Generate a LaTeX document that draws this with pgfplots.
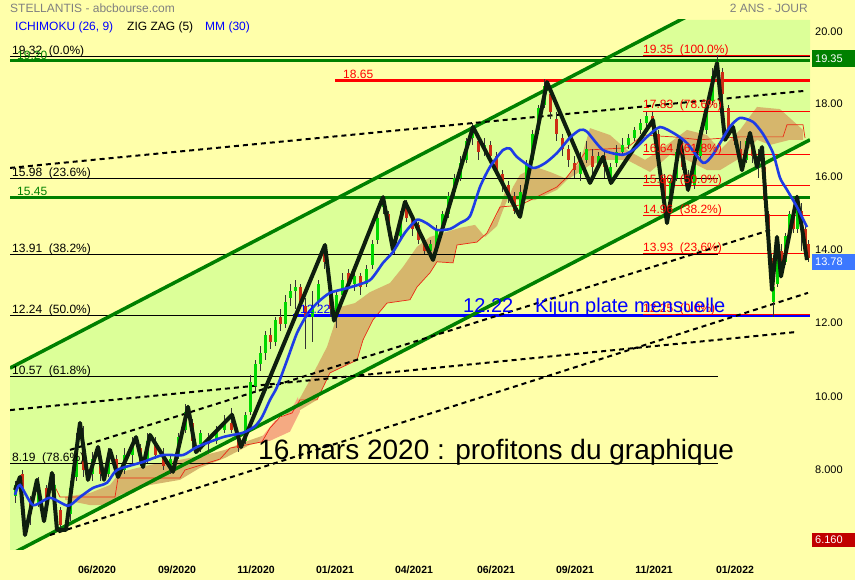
\documentclass[border=0pt]{standalone}
\usepackage{fontspec}
\setmainfont{Liberation Sans}
\usepackage{pgfplots}
\pgfplotsset{compat=1.18}
\usepackage{pgfplotstable}

\definecolor{bg}{RGB}{255,255,170}
\definecolor{chan}{RGB}{220,255,152}
\definecolor{chgreen}{RGB}{0,128,0}
\definecolor{cloud}{RGB}{214,182,108}
\definecolor{salmon}{RGB}{245,170,130}
\definecolor{kred}{RGB}{235,40,20}
\definecolor{zz}{RGB}{14,30,14}
\definecolor{mm}{RGB}{30,60,230}
\definecolor{cgreen}{RGB}{0,215,0}
\definecolor{cred}{RGB}{205,45,20}
\definecolor{fibred}{RGB}{255,0,0}
\definecolor{tgray}{RGB}{128,128,128}
\definecolor{boxblue}{RGB}{60,120,255}
\definecolor{boxred}{RGB}{192,0,0}

% candles: x o h l c
\pgfplotstableread{
x o h l c
15 7.3 7.7 7.1 7.6
38 7.1 7.8 7.0 7.6
54 7.0 7.9 6.8 7.6
70 6.8 7.7 6.6 7.5
76 7.8 9.0 7.7 8.6
92 7.9 8.5 7.7 8.3
108 7.9 8.6 7.8 8.4
124 8.0 8.6 7.9 8.4
132 8.4 8.9 8.2 8.7
147 8.3 9.0 8.2 8.8
170 8.0 8.4 7.9 8.3
178 8.4 9.0 8.3 8.9
185 9.1 9.8 9.0 9.6
200 8.7 9.1 8.5 9.0
216 8.8 9.2 8.7 9.1
224 9.1 9.5 9.0 9.3
245 8.8 9.6 8.7 9.5
250 9.6 10.6 9.5 10.4
255 10.3 11.0 10.1 10.9
260 10.9 11.4 10.7 11.2
265 11.2 11.8 11.0 11.7
275 11.5 12.2 11.4 12.1
285 12.0 12.8 11.9 12.6
290 12.7 13.1 12.5 12.9
295 12.9 13.2 12.4 13.0
312 12.2 12.9 11.5 12.5
318 12.6 13.2 12.5 13.1
336 12.3 12.9 11.9 12.8
342 12.8 13.4 12.7 13.2
354 13.1 13.5 12.9 13.3
366 13.1 13.6 13.0 13.5
372 13.6 14.3 13.5 14.2
377 14.3 15.1 14.2 14.9
383 15.2 15.5 15.0 15.3
400 14.4 15.1 14.3 14.9
430 14.0 14.3 13.8 14.2
436 14.1 14.7 13.9 14.6
442 14.6 15.1 14.5 15.0
448 15.0 15.6 14.9 15.5
454 15.6 16.1 15.5 16.0
460 16.0 16.6 15.9 16.4
466 16.5 17.1 16.4 17.0
472 17.1 17.5 16.9 17.3
484 16.8 17.1 16.6 16.9
520 15.0 15.8 14.9 15.6
526 15.7 16.5 15.6 16.4
532 16.5 17.3 16.4 17.2
538 17.3 18.0 17.2 17.9
544 18.0 18.7 17.9 18.5
580 16.1 16.7 15.9 16.5
586 16.5 17.0 16.4 16.8
598 16.3 16.7 16.2 16.6
610 16.0 16.4 15.8 16.3
616 16.4 16.9 16.3 16.7
622 16.7 17.1 16.6 16.9
628 16.9 17.2 16.8 17.1
634 17.1 17.4 17.0 17.3
640 17.3 17.6 17.2 17.5
646 17.5 17.8 17.3 17.7
670 15.2 16.0 15.1 15.9
676 16.0 16.8 15.9 16.7
694 15.8 16.7 15.7 16.6
700 16.6 17.4 16.5 17.3
706 17.3 18.1 17.2 18.0
712 18.1 19.0 18.0 18.8
717 18.9 19.35 18.7 19.2
746 16.5 17.1 16.4 17.0
758 16.4 16.8 16.0 16.6
773 12.6 13.1 12.2 13.0
777 13.1 14.2 13.0 14.0
785 13.7 14.5 13.6 14.4
789 14.4 15.1 14.3 15.0
797 14.6 15.4 14.5 15.2
}\candG

\pgfplotstableread{
x o h l c
22 7.9 8.0 7.3 7.4
30 7.2 7.3 6.5 6.8
46 7.5 7.6 6.9 7.0
60 6.9 7.0 6.3 6.5
83 8.7 9.2 7.8 8.0
100 8.3 8.5 7.7 7.9
116 8.3 8.4 7.8 7.9
140 8.6 8.7 8.1 8.2
155 8.7 8.9 8.3 8.4
163 8.4 8.6 8.0 8.1
192 9.3 9.4 8.6 8.8
208 8.9 9.0 8.5 8.7
231 9.3 9.7 9.0 9.1
238 8.8 9.0 8.5 8.6
270 11.7 11.9 11.3 11.5
280 12.2 12.4 11.8 12.0
300 13.0 13.1 12.5 12.6
305 12.5 12.7 11.3 12.2
324 14.1 14.2 13.5 13.7
330 13.0 13.1 12.2 12.4
348 13.4 13.5 13.0 13.1
360 13.3 13.4 12.8 13.0
388 15.0 15.1 14.4 14.6
394 14.3 14.4 13.9 14.1
406 15.2 15.4 14.8 14.9
412 14.9 15.0 14.4 14.6
418 14.7 14.8 14.2 14.3
424 14.2 14.3 13.9 14.0
478 17.0 17.2 16.5 16.7
490 16.9 17.0 16.5 16.6
496 16.6 16.7 16.1 16.2
502 16.1 16.2 15.6 15.8
508 15.8 15.9 15.3 15.5
514 15.5 15.6 15.0 15.1
550 18.3 18.4 17.6 17.8
556 17.6 17.8 17.0 17.2
562 17.1 17.2 16.6 16.8
568 16.8 16.9 16.3 16.5
574 16.4 16.6 16.0 16.2
592 16.6 16.8 16.0 16.3
604 16.6 16.7 16.0 16.3
652 17.7 17.8 17.2 17.4
658 17.2 17.3 16.3 16.4
664 16.0 16.1 14.9 15.2
682 16.8 17.1 16.2 16.3
688 16.0 16.2 15.6 15.8
722 18.9 19.0 18.1 18.3
728 17.9 18.0 17.1 17.3
734 17.2 17.4 16.9 17.0
740 16.8 17.0 16.3 16.4
752 17.0 17.1 16.4 16.6
764 16.3 16.4 15.2 15.4
768 15.0 15.1 13.8 14.0
771 13.8 13.9 12.9 13.0
781 14.0 14.2 13.5 13.6
793 15.0 15.2 14.5 14.6
801 15.1 15.3 14.0 14.7
805 14.6 14.7 13.9 14.1
808 14.2 14.3 13.7 13.8
}\candR

\begin{document}
\begin{tikzpicture}
\useasboundingbox (0,0) rectangle (855pt,580pt);
\fill[bg] (0,0) rectangle (855pt,580pt);
\begin{axis}[at={(10pt,30pt)}, anchor=south west, scale only axis,
  width=800pt, height=530pt,
  xmin=10, xmax=810, ymin=5.81, ymax=20.32,
  hide axis, clip mode=individual]

% channel fill
\addplot[fill=chan, draw=none] coordinates {
  (10,10.79) (678,20.32) (810,20.32) (810,17.04) (10,5.68)} -- cycle;

% ichimoku cloud
\addplot[fill=cloud, draw=none] coordinates {
 (65,7.26)(90,7.37)(110,7.59)(120,7.94)(150,8.14)(180,8.28)(205,8.41)(225,8.55)
 (245,8.77)(265,8.96)(285,9.51)(300,9.97)(310,10.47)(327,11.37)(340,12.46)(355,12.57)
 (370,12.87)(390,13.12)(403,13.56)(417,14.11)(430,14.38)(460,14.63)(475,14.71)(485,14.38)
 (497,14.68)(503,15.12)(513,15.75)(520,16.08)(535,16.30)(550,16.16)(565,15.99)(580,16.43)
 (590,17.36)(610,17.17)(627,16.76)(645,16.49)(660,16.76)(687,17.31)(707,17.17)(720,16.76)
 (740,17.31)(757,17.94)(780,17.88)(803,17.31)
 (803,17.04)(790,17.04)(770,16.90)(757,17.04)(740,16.54)(720,16.21)(707,16.21)(687,16.49)
 (670,16.63)(650,16.16)(627,16.49)(605,16.49)(590,16.35)(567,15.94)(557,15.67)(535,15.39)
 (517,15.39)(505,15.61)(497,14.98)(487,14.49)(477,14.24)(457,14.16)(453,13.67)(437,13.70)
 (430,13.40)(417,13.01)(410,12.66)(387,12.57)(373,12.11)(363,11.56)(357,11.01)(330,10.66)
 (317,9.92)(300,9.64)(285,9.10)(270,8.82)(250,8.69)(225,8.33)(200,8.06)(180,7.73)
 (150,7.59)(120,7.32)(110,7.04)(90,7.04)(65,7.18)} -- cycle;
\addplot[fill=salmon, draw=none] coordinates {
 (258,8.77)(275,9.35)(290,9.56)(298,10.0)(300,9.6)(290,9.05)(270,8.80)} -- cycle;

% kijun / span red thin line
\addplot[kred, line width=0.7pt] coordinates {
 (55,7.54)(60,7.26)(115,7.26)(118,7.78)(180,7.78)(185,8.00)(220,8.30)(230,8.60)
 (262,8.77)(270,9.15)(280,9.45)(292,9.56)(300,9.92)(317,9.92)(330,10.66)(357,11.01)
 (363,11.56)(373,12.11)(387,12.57)(410,12.66)(417,13.01)(430,13.40)(437,13.70)(453,13.67)
 (457,14.16)(477,14.24)(487,14.49)(500,15.20)(520,15.25)(557,15.75)(567,16.02)(587,16.76)
 (627,16.82)(643,17.17)(673,17.12)(700,17.04)(740,17.12)(783,17.12)(787,17.45)(803,17.45)(805,17.09)};

% black fibonacci levels
\addplot[black, line width=0.8pt] coordinates {(10,19.32) (810,19.32)};
\addplot[black, line width=0.8pt] coordinates {(10,15.98) (718,15.98)};
\addplot[black, line width=0.8pt] coordinates {(10,13.91) (718,13.91)};
\addplot[black, line width=0.8pt] coordinates {(10,12.24) (718,12.24)};
\addplot[black, line width=0.8pt] coordinates {(10,10.57) (718,10.57)};
\addplot[black, line width=0.8pt] coordinates {(10,8.19) (718,8.19)};

% red fibonacci levels
\addplot[fibred, line width=0.8pt] coordinates {(643,19.35) (810,19.35)};
\addplot[fibred, line width=0.8pt] coordinates {(643,17.83) (810,17.83)};
\addplot[fibred, line width=0.8pt] coordinates {(643,16.64) (810,16.64)};
\addplot[fibred, line width=0.8pt] coordinates {(643,15.80) (810,15.80)};
\addplot[fibred, line width=0.8pt] coordinates {(643,14.96) (810,14.96)};
\addplot[fibred, line width=0.8pt] coordinates {(643,13.93) (810,13.93)};

% supports / resistances
\addplot[chgreen, line width=3pt] coordinates {(10,19.20) (810,19.20)};
\addplot[chgreen, line width=3pt] coordinates {(10,15.45) (810,15.45)};
\addplot[fibred, line width=3pt] coordinates {(335,18.65) (810,18.65)};
\addplot[blue, line width=3pt] coordinates {(293,12.22) (810,12.22)};
\addplot[fibred, line width=1pt] coordinates {(643,12.27) (810,12.27)};

% channel lines
\addplot[chgreen, line width=3.5pt] coordinates {(10,10.79) (700,20.60)};
\addplot[chgreen, line width=3.5pt] coordinates {(10,5.68) (810,17.04)};

% dashed trend lines
\addplot[black, line width=2pt, dash pattern=on 5pt off 4pt] coordinates {(10,16.27) (805,18.38)};
\addplot[black, line width=2pt, dash pattern=on 5pt off 4pt] coordinates {(10,9.64) (797,11.78)};
\addplot[black, line width=2pt, dash pattern=on 5pt off 4pt] coordinates {(50,6.22) (808,12.85)};
\addplot[black, line width=2pt, dash pattern=on 5pt off 4pt] coordinates {(70,8.55) (770,14.57)};

% candles: wicks then bodies
\addplot[draw=none, mark=none, error bars/.cd, y dir=both, y explicit, error mark=none,
  error bar style={draw=black!80, line width=0.6pt}]
  table[x=x, y expr=(\thisrow{h}+\thisrow{l})/2, y error expr=(\thisrow{h}-\thisrow{l})/2] {\candG};
\addplot[draw=none, mark=none, error bars/.cd, y dir=both, y explicit, error mark=none,
  error bar style={draw=black!80, line width=0.6pt}]
  table[x=x, y expr=(\thisrow{h}+\thisrow{l})/2, y error expr=(\thisrow{h}-\thisrow{l})/2] {\candR};
\addplot[draw=none, mark=none, error bars/.cd, y dir=both, y explicit, error mark=none,
  error bar style={draw=cgreen, line width=3pt}]
  table[x=x, y expr=(\thisrow{o}+\thisrow{c})/2, y error expr=abs(\thisrow{c}-\thisrow{o})/2] {\candG};
\addplot[draw=none, mark=none, error bars/.cd, y dir=both, y explicit, error mark=none,
  error bar style={draw=cred, line width=3pt}]
  table[x=x, y expr=(\thisrow{o}+\thisrow{c})/2, y error expr=abs(\thisrow{c}-\thisrow{o})/2] {\candR};

% zig zag (5)
\addplot[zz, line width=4pt, line join=round] coordinates {
 (15,7.45)(20,7.81)(25,6.22)(37,7.73)(44,6.60)(52,7.92)(57,6.36)(66,6.36)(80,9.29)
 (88,7.73)(98,8.63)(104,7.73)(110,8.55)(118,7.81)(136,8.90)(143,8.08)(150,8.96)
 (173,7.95)(188,9.73)(196,8.49)(232,9.51)(241,8.63)(325,14.16)(334,12.09)(383,15.47)
 (393,14.03)(405,15.34)(433,13.75)(473,17.39)(520,14.93)(547,18.62)(590,15.86)
 (603,16.57)(611,15.86)(653,17.58)(667,14.76)(680,17.04)(688,15.67)(717,19.14)
 (725,17.04)(733,17.39)(742,16.21)(750,17.23)(757,16.30)(762,16.84)(772,12.93)
 (777,14.38)(781,13.30)(797,15.48)(807,13.75)};

% MM (30)
\addplot[mm, line width=2.6pt, smooth, tension=0.4] coordinates {
 (15,7.32)(20,7.59)(33,7.04)(50,7.24)(68,7.02)(80,7.26)(93,7.51)(107,7.65)(117,8.00)
 (143,8.22)(163,8.41)(183,8.41)(197,8.63)(223,8.90)(243,9.02)(255,9.20)(262,9.45)
 (270,9.92)(277,10.27)(287,11.0)(297,11.75)(307,12.25)(317,12.57)(330,12.85)(350,13.0)
 (370,13.20)(383,13.67)(393,13.97)(405,14.5)(417,14.85)(427,14.75)(437,14.57)(450,14.60)
 (460,14.76)(470,14.95)(480,15.75)(490,16.3)(503,16.76)(510,16.8)(517,16.57)(533,16.27)
 (545,16.4)(557,16.68)(570,17.1)(580,17.31)(587,17.26)(603,16.76)(623,16.63)(635,16.8)
 (647,17.12)(660,17.39)(675,17.2)(687,16.95)(703,16.41)(712,16.6)(720,16.95)(730,17.4)
 (740,17.64)(753,17.53)(763,17.2)(773,16.68)(780,16.0)(787,15.67)(797,15.2)(807,14.65)};

% level labels
\begin{scope}[every node/.style={anchor=base west, inner sep=0pt, yshift=2pt, font=\fontsize{12}{14}\selectfont}]
\node at (axis cs:12,19.32) {19.32\ \ (0.0\%)};
\node[text=chgreen, yshift=-1pt] at (axis cs:17,19.20) {19.20};
\node at (axis cs:12,15.98) {15.98\ \ (23.6\%)};
\node[text=chgreen] at (axis cs:17,15.45) {15.45};
\node at (axis cs:12,13.91) {13.91\ \ (38.2\%)};
\node at (axis cs:12,12.24) {12.24\ \ (50.0\%)};
\node at (axis cs:12,10.57) {10.57\ \ (61.8\%)};
\node at (axis cs:12,8.19) {8.19\ \ (78.6\%)};
\node[text=fibred] at (axis cs:343,18.65) {18.65};
\node[text=fibred] at (axis cs:643,19.35) {19.35\ \ (100.0\%)};
\node[text=fibred] at (axis cs:643,17.83) {17.83\ \ (78.6\%)};
\node[text=fibred] at (axis cs:643,16.64) {16.64\ \ (61.8\%)};
\node[text=fibred] at (axis cs:643,15.80) {15.80\ \ (50.0\%)};
\node[text=fibred] at (axis cs:643,14.96) {14.96\ \ (38.2\%)};
\node[text=fibred] at (axis cs:643,13.93) {13.93\ \ (23.6\%)};
\node[text=fibred] at (axis cs:643,12.27) {12.25\ \ (0.0\%)};
\node[text=blue] at (axis cs:300,12.22) {12.22};
\end{scope}
\end{axis}

% big annotations
\node[anchor=base west, inner sep=0pt, text=blue, font=\fontsize{20}{24}\selectfont] at (463pt,267pt) {12.22};
\node[anchor=base west, inner sep=0pt, text=blue, font=\fontsize{20}{24}\selectfont] at (535pt,267pt) {Kijun plate mensuelle};
\node[anchor=base west, inner sep=0pt, font=\fontsize{28}{32}\selectfont] at (258pt,120pt) {16 mars 2020 : profitons du graphique};

% header
\node[anchor=west, inner sep=0pt, text=tgray, font=\fontsize{12}{14}\selectfont] at (10pt,572pt) {STELLANTIS - abcbourse.com};
\node[anchor=east, inner sep=0pt, text=tgray, font=\fontsize{12}{14}\selectfont] at (808pt,572pt) {2 ANS - JOUR};
\node[anchor=west, inner sep=0pt, text=blue, font=\fontsize{12}{14}\selectfont] at (15pt,553pt) {ICHIMOKU (26, 9)};
\node[anchor=west, inner sep=0pt, font=\fontsize{12}{14}\selectfont] at (127pt,553pt) {ZIG ZAG (5)};
\node[anchor=west, inner sep=0pt, text=blue, font=\fontsize{12}{14}\selectfont] at (205pt,553pt) {MM (30)};

% right price scale
\begin{scope}[every node/.style={anchor=west, inner sep=0pt, font=\fontsize{11}{13}\selectfont}]
\node at (815pt,548pt) {20.00};
\node at (815pt,476pt) {18.00};
\node at (815pt,403pt) {16.00};
\node at (815pt,330pt) {14.00};
\node at (815pt,257pt) {12.00};
\node at (815pt,183pt) {10.00};
\node at (815pt,110pt) {8.000};
\fill[chgreen] (812pt,513pt) rectangle (855pt,530pt);
\node[text=white] at (815pt,521.5pt) {19.35};
\fill[boxblue] (812pt,310pt) rectangle (855pt,326pt);
\node[text=white] at (815pt,318pt) {13.78};
\fill[boxred] (812pt,33pt) rectangle (855pt,47pt);
\node[text=white] at (815pt,40pt) {6.160};
\end{scope}

% dates
\begin{scope}[every node/.style={inner sep=0pt, font=\bfseries\fontsize{10.5}{12}\selectfont}]
\node at (97pt,10pt) {06/2020};
\node at (177pt,10pt) {09/2020};
\node at (256pt,10pt) {11/2020};
\node at (335pt,10pt) {01/2021};
\node at (414pt,10pt) {04/2021};
\node at (496pt,10pt) {06/2021};
\node at (575pt,10pt) {09/2021};
\node at (654pt,10pt) {11/2021};
\node at (735pt,10pt) {01/2022};
\end{scope}
\end{tikzpicture}
\end{document}
